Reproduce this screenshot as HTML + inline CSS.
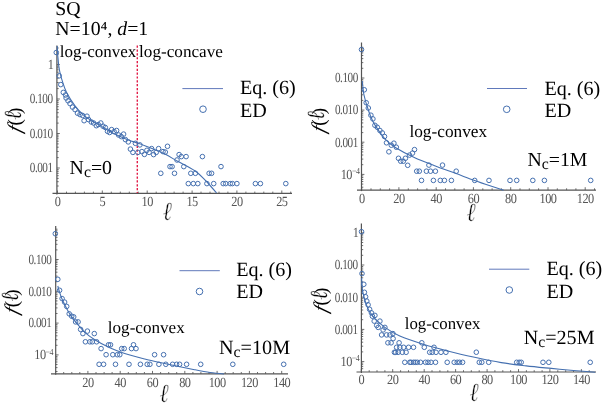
<!DOCTYPE html>
<html><head><meta charset="utf-8"><title>Length distributions</title>
<style>
html,body{margin:0;padding:0;background:#fff;}
svg{display:block;font-family:"Liberation Serif",serif;text-rendering:geometricPrecision;will-change:transform;}
</style></head>
<body>
<svg width="602" height="403" viewBox="0 0 602 403">
<rect width="602" height="403" fill="#fff"/>
<g stroke="#555555" stroke-width="1.2" fill="none">
<line x1="52.5" y1="193.4" x2="292" y2="193.4"/>
<line x1="56.9" y1="45.5" x2="56.9" y2="194.4"/>
</g>
<g stroke="#555555" stroke-width="0.85" fill="none">
<line x1="57.5" y1="193.4" x2="57.5" y2="190.5"/>
<line x1="102.3" y1="193.4" x2="102.3" y2="190.5"/>
<line x1="147.2" y1="193.4" x2="147.2" y2="190.5"/>
<line x1="192.1" y1="193.4" x2="192.1" y2="190.5"/>
<line x1="236.9" y1="193.4" x2="236.9" y2="190.5"/>
<line x1="281.8" y1="193.4" x2="281.8" y2="190.5"/>
<line x1="66.5" y1="193.4" x2="66.5" y2="191.6"/>
<line x1="75.4" y1="193.4" x2="75.4" y2="191.6"/>
<line x1="84.4" y1="193.4" x2="84.4" y2="191.6"/>
<line x1="93.4" y1="193.4" x2="93.4" y2="191.6"/>
<line x1="111.3" y1="193.4" x2="111.3" y2="191.6"/>
<line x1="120.3" y1="193.4" x2="120.3" y2="191.6"/>
<line x1="129.3" y1="193.4" x2="129.3" y2="191.6"/>
<line x1="138.2" y1="193.4" x2="138.2" y2="191.6"/>
<line x1="156.2" y1="193.4" x2="156.2" y2="191.6"/>
<line x1="165.1" y1="193.4" x2="165.1" y2="191.6"/>
<line x1="174.1" y1="193.4" x2="174.1" y2="191.6"/>
<line x1="183.1" y1="193.4" x2="183.1" y2="191.6"/>
<line x1="201.0" y1="193.4" x2="201.0" y2="191.6"/>
<line x1="210.0" y1="193.4" x2="210.0" y2="191.6"/>
<line x1="219.0" y1="193.4" x2="219.0" y2="191.6"/>
<line x1="227.9" y1="193.4" x2="227.9" y2="191.6"/>
<line x1="245.9" y1="193.4" x2="245.9" y2="191.6"/>
<line x1="254.8" y1="193.4" x2="254.8" y2="191.6"/>
<line x1="263.8" y1="193.4" x2="263.8" y2="191.6"/>
<line x1="272.8" y1="193.4" x2="272.8" y2="191.6"/>
<line x1="290.7" y1="193.4" x2="290.7" y2="191.6"/>
<line x1="56.9" y1="64.5" x2="59.8" y2="64.5"/>
<line x1="56.9" y1="99.0" x2="59.8" y2="99.0"/>
<line x1="56.9" y1="133.5" x2="59.8" y2="133.5"/>
<line x1="56.9" y1="168.0" x2="59.8" y2="168.0"/>
<line x1="56.9" y1="186.0" x2="58.699999999999996" y2="186.0"/>
<line x1="56.9" y1="181.7" x2="58.699999999999996" y2="181.7"/>
<line x1="56.9" y1="178.4" x2="58.699999999999996" y2="178.4"/>
<line x1="56.9" y1="175.7" x2="58.699999999999996" y2="175.7"/>
<line x1="56.9" y1="173.3" x2="58.699999999999996" y2="173.3"/>
<line x1="56.9" y1="171.3" x2="58.699999999999996" y2="171.3"/>
<line x1="56.9" y1="169.6" x2="58.699999999999996" y2="169.6"/>
<line x1="56.9" y1="157.6" x2="58.699999999999996" y2="157.6"/>
<line x1="56.9" y1="151.5" x2="58.699999999999996" y2="151.5"/>
<line x1="56.9" y1="147.2" x2="58.699999999999996" y2="147.2"/>
<line x1="56.9" y1="143.9" x2="58.699999999999996" y2="143.9"/>
<line x1="56.9" y1="141.2" x2="58.699999999999996" y2="141.2"/>
<line x1="56.9" y1="138.8" x2="58.699999999999996" y2="138.8"/>
<line x1="56.9" y1="136.8" x2="58.699999999999996" y2="136.8"/>
<line x1="56.9" y1="135.1" x2="58.699999999999996" y2="135.1"/>
<line x1="56.9" y1="123.1" x2="58.699999999999996" y2="123.1"/>
<line x1="56.9" y1="117.0" x2="58.699999999999996" y2="117.0"/>
<line x1="56.9" y1="112.7" x2="58.699999999999996" y2="112.7"/>
<line x1="56.9" y1="109.4" x2="58.699999999999996" y2="109.4"/>
<line x1="56.9" y1="106.7" x2="58.699999999999996" y2="106.7"/>
<line x1="56.9" y1="104.3" x2="58.699999999999996" y2="104.3"/>
<line x1="56.9" y1="102.3" x2="58.699999999999996" y2="102.3"/>
<line x1="56.9" y1="100.6" x2="58.699999999999996" y2="100.6"/>
<line x1="56.9" y1="88.6" x2="58.699999999999996" y2="88.6"/>
<line x1="56.9" y1="82.5" x2="58.699999999999996" y2="82.5"/>
<line x1="56.9" y1="78.2" x2="58.699999999999996" y2="78.2"/>
<line x1="56.9" y1="74.9" x2="58.699999999999996" y2="74.9"/>
<line x1="56.9" y1="72.2" x2="58.699999999999996" y2="72.2"/>
<line x1="56.9" y1="69.8" x2="58.699999999999996" y2="69.8"/>
<line x1="56.9" y1="67.8" x2="58.699999999999996" y2="67.8"/>
<line x1="56.9" y1="66.1" x2="58.699999999999996" y2="66.1"/>
<line x1="56.9" y1="54.1" x2="58.699999999999996" y2="54.1"/>
<line x1="56.9" y1="48.0" x2="58.699999999999996" y2="48.0"/>
</g>
<text transform="translate(57.5,205.7) scale(0.88,1)" font-size="14" letter-spacing="-0.6" text-anchor="middle" fill="#555555">0</text>
<text transform="translate(102.3,205.7) scale(0.88,1)" font-size="14" letter-spacing="-0.6" text-anchor="middle" fill="#555555">5</text>
<text transform="translate(147.2,205.7) scale(0.88,1)" font-size="14" letter-spacing="-0.6" text-anchor="middle" fill="#555555">10</text>
<text transform="translate(192.1,205.7) scale(0.88,1)" font-size="14" letter-spacing="-0.6" text-anchor="middle" fill="#555555">15</text>
<text transform="translate(236.9,205.7) scale(0.88,1)" font-size="14" letter-spacing="-0.6" text-anchor="middle" fill="#555555">20</text>
<text transform="translate(281.8,205.7) scale(0.88,1)" font-size="14" letter-spacing="-0.6" text-anchor="middle" fill="#555555">25</text>
<text transform="translate(53.5,68.8) scale(0.88,1)" font-size="14" letter-spacing="-0.6" text-anchor="end" fill="#555555">1</text>
<text transform="translate(52.6,103.3) scale(0.8,1)" font-size="14" letter-spacing="-0.6" text-anchor="end" fill="#555555">0.100</text>
<text transform="translate(52.6,137.8) scale(0.8,1)" font-size="14" letter-spacing="-0.6" text-anchor="end" fill="#555555">0.010</text>
<text transform="translate(52.6,172.3) scale(0.8,1)" font-size="14" letter-spacing="-0.6" text-anchor="end" fill="#555555">0.001</text>
<line x1="137.3" y1="45.6" x2="137.3" y2="193" stroke="#e21d48" stroke-width="1.4" stroke-dasharray="2.2,1.65"/>
<path d="M57.2,46.0C57.3,47.7 57.5,52.7 57.8,56.0C58.1,59.3 58.4,63.0 58.8,66.0C59.2,69.0 59.7,71.4 60.3,74.0C60.9,76.6 61.5,78.5 62.5,81.6C63.5,84.7 64.5,88.4 66.6,92.4C68.7,96.4 72.2,102.0 75.0,105.8C77.8,109.5 80.5,112.4 83.3,114.9C86.1,117.4 88.8,119.0 91.6,120.7C94.4,122.5 96.7,123.4 100.0,125.4C103.3,127.4 106.9,130.1 111.6,132.5C116.3,134.9 123.9,138.2 128.3,140.0C132.8,141.8 134.2,141.8 138.3,143.3C142.5,144.8 148.8,147.3 153.2,149.1C157.6,150.9 160.7,152.0 164.9,154.1C169.1,156.2 173.2,158.8 178.2,161.6C183.2,164.4 190.2,167.5 194.8,170.7C199.4,173.9 202.4,177.3 206.0,181.0C209.6,184.7 214.8,191.0 216.5,193.0" fill="none" stroke="#4570b0" stroke-width="1.1"/>
<g fill="none" stroke="#4570b0" stroke-width="1.0">
<circle cx="56.3" cy="52.5" r="2.3"/>
<circle cx="59.2" cy="75.8" r="2.3"/>
<circle cx="60.8" cy="84.6" r="2.3"/>
<circle cx="63.3" cy="92.4" r="2.3"/>
<circle cx="65.5" cy="95.0" r="2.3"/>
<circle cx="66.1" cy="98.0" r="2.3"/>
<circle cx="68.0" cy="100.8" r="2.3"/>
<circle cx="70.0" cy="103.6" r="2.3"/>
<circle cx="72.5" cy="107.1" r="2.3"/>
<circle cx="75.0" cy="109.6" r="2.3"/>
<circle cx="77.5" cy="113.2" r="2.3"/>
<circle cx="80.0" cy="114.6" r="2.3"/>
<circle cx="82.5" cy="115.4" r="2.3"/>
<circle cx="84.1" cy="120.7" r="2.3"/>
<circle cx="87.0" cy="116.2" r="2.3"/>
<circle cx="88.6" cy="119.6" r="2.3"/>
<circle cx="91.3" cy="122.0" r="2.3"/>
<circle cx="93.6" cy="123.0" r="2.3"/>
<circle cx="96.3" cy="125.7" r="2.3"/>
<circle cx="98.3" cy="124.6" r="2.3"/>
<circle cx="100.8" cy="123.0" r="2.3"/>
<circle cx="103.0" cy="126.2" r="2.3"/>
<circle cx="105.3" cy="127.5" r="2.3"/>
<circle cx="107.5" cy="131.3" r="2.3"/>
<circle cx="109.6" cy="132.5" r="2.3"/>
<circle cx="111.6" cy="129.6" r="2.3"/>
<circle cx="114.1" cy="131.6" r="2.3"/>
<circle cx="116.6" cy="130.5" r="2.3"/>
<circle cx="118.6" cy="135.0" r="2.3"/>
<circle cx="121.3" cy="136.6" r="2.3"/>
<circle cx="123.6" cy="134.1" r="2.3"/>
<circle cx="125.4" cy="139.6" r="2.3"/>
<circle cx="128.3" cy="141.9" r="2.3"/>
<circle cx="130.4" cy="149.1" r="2.3"/>
<circle cx="132.9" cy="152.4" r="2.3"/>
<circle cx="135.4" cy="143.3" r="2.3"/>
<circle cx="137.9" cy="152.4" r="2.3"/>
<circle cx="139.9" cy="144.9" r="2.3"/>
<circle cx="141.9" cy="151.6" r="2.3"/>
<circle cx="144.4" cy="154.4" r="2.3"/>
<circle cx="146.9" cy="150.3" r="2.3"/>
<circle cx="149.1" cy="152.4" r="2.3"/>
<circle cx="151.6" cy="148.6" r="2.3"/>
<circle cx="153.6" cy="154.6" r="2.3"/>
<circle cx="156.2" cy="152.4" r="2.3"/>
<circle cx="158.6" cy="148.6" r="2.3"/>
<circle cx="160.8" cy="173.3" r="2.3"/>
<circle cx="163.0" cy="151.6" r="2.3"/>
<circle cx="165.3" cy="152.1" r="2.3"/>
<circle cx="167.5" cy="146.3" r="2.3"/>
<circle cx="170.0" cy="166.6" r="2.3"/>
<circle cx="172.1" cy="166.6" r="2.3"/>
<circle cx="174.5" cy="173.3" r="2.3"/>
<circle cx="177.0" cy="160.0" r="2.3"/>
<circle cx="179.1" cy="154.6" r="2.3"/>
<circle cx="181.3" cy="156.6" r="2.3"/>
<circle cx="183.8" cy="166.6" r="2.3"/>
<circle cx="186.1" cy="156.6" r="2.3"/>
<circle cx="188.3" cy="183.6" r="2.3"/>
<circle cx="190.8" cy="173.3" r="2.3"/>
<circle cx="193.3" cy="183.6" r="2.3"/>
<circle cx="195.4" cy="173.3" r="2.3"/>
<circle cx="197.8" cy="183.6" r="2.3"/>
<circle cx="202.4" cy="156.6" r="2.3"/>
<circle cx="206.9" cy="183.6" r="2.3"/>
<circle cx="209.1" cy="173.3" r="2.3"/>
<circle cx="211.6" cy="173.3" r="2.3"/>
<circle cx="213.7" cy="183.6" r="2.3"/>
<circle cx="221.0" cy="166.6" r="2.3"/>
<circle cx="223.2" cy="183.6" r="2.3"/>
<circle cx="225.7" cy="183.6" r="2.3"/>
<circle cx="230.2" cy="183.6" r="2.3"/>
<circle cx="232.4" cy="183.6" r="2.3"/>
<circle cx="236.9" cy="183.6" r="2.3"/>
<circle cx="255.4" cy="183.6" r="2.3"/>
<circle cx="260.4" cy="183.6" r="2.3"/>
<circle cx="285.8" cy="183.6" r="2.3"/>
</g>
<text x="55.2" y="15" font-size="19.8" text-anchor="start" fill="#000" >SQ</text>
<text x="55.3" y="35.4" font-size="19.8" fill="#000">N=10⁴, <tspan font-style="italic">d</tspan>=1</text>
<text x="59.8" y="56.8" font-size="17.0" text-anchor="start" fill="#000" >log-convex</text>
<text x="139.1" y="56.8" font-size="17.15" text-anchor="start" fill="#000" >log-concave</text>
<line x1="182.4" y1="88.6" x2="223" y2="88.6" stroke="#6079bb" stroke-width="1"/>
<circle cx="203" cy="109.2" r="3.3" fill="none" stroke="#4570b0" stroke-width="1"/>
<text x="240" y="94.3" font-size="20.1" text-anchor="start" fill="#000" >Eq. (6)</text>
<text x="240" y="117" font-size="20.1" text-anchor="start" fill="#000" >ED</text>
<text x="69.6" y="174.4" font-size="19.8" fill="#000">N<tspan dy="2.6" font-size="15.8">c</tspan><tspan dy="-2.6">=0</tspan></text>
<g transform="translate(21,135) rotate(-90)" fill="#000">
<text transform="translate(1.7,0) skewX(-17)" font-size="19.5" font-style="italic">f</text>
<text x="9.4" y="0" font-size="19">(</text>
<text transform="translate(15.2,-0.4) scale(0.86,1)" font-size="24.5" font-style="italic" stroke="#fff" stroke-width="0.3">ℓ</text>
<text x="20.9" y="0" font-size="19">)</text>
</g>
<text transform="translate(162.78,219.90) scale(0.84,1)" font-size="26" font-style="italic" fill="#000" stroke="#fff" stroke-width="0.45">ℓ</text>
<g stroke="#555555" stroke-width="1.2" fill="none">
<line x1="357" y1="190.1" x2="596" y2="190.1"/>
<line x1="361.5" y1="42.5" x2="361.5" y2="191.1"/>
</g>
<g stroke="#555555" stroke-width="0.85" fill="none">
<line x1="361.7" y1="190.1" x2="361.7" y2="187.2"/>
<line x1="398.9" y1="190.1" x2="398.9" y2="187.2"/>
<line x1="436.2" y1="190.1" x2="436.2" y2="187.2"/>
<line x1="473.4" y1="190.1" x2="473.4" y2="187.2"/>
<line x1="510.7" y1="190.1" x2="510.7" y2="187.2"/>
<line x1="548.0" y1="190.1" x2="548.0" y2="187.2"/>
<line x1="585.2" y1="190.1" x2="585.2" y2="187.2"/>
<line x1="371.0" y1="190.1" x2="371.0" y2="188.29999999999998"/>
<line x1="380.3" y1="190.1" x2="380.3" y2="188.29999999999998"/>
<line x1="389.6" y1="190.1" x2="389.6" y2="188.29999999999998"/>
<line x1="408.3" y1="190.1" x2="408.3" y2="188.29999999999998"/>
<line x1="417.6" y1="190.1" x2="417.6" y2="188.29999999999998"/>
<line x1="426.9" y1="190.1" x2="426.9" y2="188.29999999999998"/>
<line x1="445.5" y1="190.1" x2="445.5" y2="188.29999999999998"/>
<line x1="454.8" y1="190.1" x2="454.8" y2="188.29999999999998"/>
<line x1="464.1" y1="190.1" x2="464.1" y2="188.29999999999998"/>
<line x1="482.8" y1="190.1" x2="482.8" y2="188.29999999999998"/>
<line x1="492.1" y1="190.1" x2="492.1" y2="188.29999999999998"/>
<line x1="501.4" y1="190.1" x2="501.4" y2="188.29999999999998"/>
<line x1="520.0" y1="190.1" x2="520.0" y2="188.29999999999998"/>
<line x1="529.3" y1="190.1" x2="529.3" y2="188.29999999999998"/>
<line x1="538.6" y1="190.1" x2="538.6" y2="188.29999999999998"/>
<line x1="557.3" y1="190.1" x2="557.3" y2="188.29999999999998"/>
<line x1="566.6" y1="190.1" x2="566.6" y2="188.29999999999998"/>
<line x1="575.9" y1="190.1" x2="575.9" y2="188.29999999999998"/>
<line x1="594.5" y1="190.1" x2="594.5" y2="188.29999999999998"/>
<line x1="361.5" y1="78.0" x2="364.4" y2="78.0"/>
<line x1="361.5" y1="110.1" x2="364.4" y2="110.1"/>
<line x1="361.5" y1="142.2" x2="364.4" y2="142.2"/>
<line x1="361.5" y1="174.4" x2="364.4" y2="174.4"/>
<line x1="361.5" y1="187.2" x2="363.3" y2="187.2"/>
<line x1="361.5" y1="184.1" x2="363.3" y2="184.1"/>
<line x1="361.5" y1="181.5" x2="363.3" y2="181.5"/>
<line x1="361.5" y1="179.4" x2="363.3" y2="179.4"/>
<line x1="361.5" y1="177.5" x2="363.3" y2="177.5"/>
<line x1="361.5" y1="175.9" x2="363.3" y2="175.9"/>
<line x1="361.5" y1="164.7" x2="363.3" y2="164.7"/>
<line x1="361.5" y1="159.1" x2="363.3" y2="159.1"/>
<line x1="361.5" y1="155.0" x2="363.3" y2="155.0"/>
<line x1="361.5" y1="151.9" x2="363.3" y2="151.9"/>
<line x1="361.5" y1="149.4" x2="363.3" y2="149.4"/>
<line x1="361.5" y1="147.2" x2="363.3" y2="147.2"/>
<line x1="361.5" y1="145.4" x2="363.3" y2="145.4"/>
<line x1="361.5" y1="143.7" x2="363.3" y2="143.7"/>
<line x1="361.5" y1="132.6" x2="363.3" y2="132.6"/>
<line x1="361.5" y1="126.9" x2="363.3" y2="126.9"/>
<line x1="361.5" y1="122.9" x2="363.3" y2="122.9"/>
<line x1="361.5" y1="119.8" x2="363.3" y2="119.8"/>
<line x1="361.5" y1="117.2" x2="363.3" y2="117.2"/>
<line x1="361.5" y1="115.1" x2="363.3" y2="115.1"/>
<line x1="361.5" y1="113.2" x2="363.3" y2="113.2"/>
<line x1="361.5" y1="111.6" x2="363.3" y2="111.6"/>
<line x1="361.5" y1="100.4" x2="363.3" y2="100.4"/>
<line x1="361.5" y1="94.8" x2="363.3" y2="94.8"/>
<line x1="361.5" y1="90.7" x2="363.3" y2="90.7"/>
<line x1="361.5" y1="87.6" x2="363.3" y2="87.6"/>
<line x1="361.5" y1="85.1" x2="363.3" y2="85.1"/>
<line x1="361.5" y1="82.9" x2="363.3" y2="82.9"/>
<line x1="361.5" y1="81.1" x2="363.3" y2="81.1"/>
<line x1="361.5" y1="79.4" x2="363.3" y2="79.4"/>
<line x1="361.5" y1="68.3" x2="363.3" y2="68.3"/>
<line x1="361.5" y1="62.6" x2="363.3" y2="62.6"/>
<line x1="361.5" y1="58.6" x2="363.3" y2="58.6"/>
<line x1="361.5" y1="55.5" x2="363.3" y2="55.5"/>
<line x1="361.5" y1="52.9" x2="363.3" y2="52.9"/>
<line x1="361.5" y1="50.8" x2="363.3" y2="50.8"/>
<line x1="361.5" y1="48.9" x2="363.3" y2="48.9"/>
<line x1="361.5" y1="47.3" x2="363.3" y2="47.3"/>
</g>
<text transform="translate(361.7,202.6) scale(0.88,1)" font-size="14" letter-spacing="-0.6" text-anchor="middle" fill="#555555">0</text>
<text transform="translate(398.9,202.6) scale(0.88,1)" font-size="14" letter-spacing="-0.6" text-anchor="middle" fill="#555555">20</text>
<text transform="translate(436.2,202.6) scale(0.88,1)" font-size="14" letter-spacing="-0.6" text-anchor="middle" fill="#555555">40</text>
<text transform="translate(473.4,202.6) scale(0.88,1)" font-size="14" letter-spacing="-0.6" text-anchor="middle" fill="#555555">60</text>
<text transform="translate(510.7,202.6) scale(0.88,1)" font-size="14" letter-spacing="-0.6" text-anchor="middle" fill="#555555">80</text>
<text transform="translate(548.0,202.6) scale(0.88,1)" font-size="14" letter-spacing="-0.6" text-anchor="middle" fill="#555555">100</text>
<text transform="translate(585.2,202.6) scale(0.88,1)" font-size="14" letter-spacing="-0.6" text-anchor="middle" fill="#555555">120</text>
<text transform="translate(357.8,82.2) scale(0.8,1)" font-size="14" letter-spacing="-0.6" text-anchor="end" fill="#555555">0.100</text>
<text transform="translate(357.8,114.4) scale(0.8,1)" font-size="14" letter-spacing="-0.6" text-anchor="end" fill="#555555">0.010</text>
<text transform="translate(357.8,146.6) scale(0.8,1)" font-size="14" letter-spacing="-0.6" text-anchor="end" fill="#555555">0.001</text>
<text transform="translate(359.4,178.7) scale(0.88,1)" font-size="14" letter-spacing="-0.6" text-anchor="end" fill="#555555">10<tspan dy="-4.5" font-size="9">−4</tspan></text>
<path d="M362.2,81.0C362.3,82.2 362.7,85.7 363.0,88.0C363.3,90.3 363.3,92.0 364.0,95.0C364.7,98.0 365.9,102.5 367.0,106.0C368.1,109.5 369.2,112.8 370.5,116.0C371.8,119.2 372.5,121.1 374.9,124.9C377.3,128.7 381.6,135.2 384.9,138.9C388.2,142.6 389.9,144.0 394.9,147.2C399.9,150.3 408.2,154.7 414.8,157.8C421.4,160.9 428.1,163.2 434.7,165.8C441.3,168.4 448.1,170.7 454.7,173.1C461.3,175.5 468.6,178.3 474.5,180.4C480.4,182.5 485.2,184.1 490.0,185.7C494.8,187.3 501.2,189.4 503.5,190.1" fill="none" stroke="#4570b0" stroke-width="1.1"/>
<g fill="none" stroke="#4570b0" stroke-width="1.0">
<circle cx="361.5" cy="49.6" r="2.3"/>
<circle cx="364.3" cy="89.8" r="2.3"/>
<circle cx="366.2" cy="102.7" r="2.3"/>
<circle cx="368.3" cy="108.0" r="2.3"/>
<circle cx="370.9" cy="115.2" r="2.3"/>
<circle cx="372.9" cy="118.9" r="2.3"/>
<circle cx="374.9" cy="125.3" r="2.3"/>
<circle cx="377.3" cy="127.3" r="2.3"/>
<circle cx="379.9" cy="130.5" r="2.3"/>
<circle cx="382.3" cy="132.9" r="2.3"/>
<circle cx="384.5" cy="136.5" r="2.3"/>
<circle cx="386.5" cy="142.8" r="2.3"/>
<circle cx="388.9" cy="151.8" r="2.3"/>
<circle cx="391.3" cy="145.2" r="2.3"/>
<circle cx="393.9" cy="143.2" r="2.3"/>
<circle cx="396.3" cy="147.2" r="2.3"/>
<circle cx="398.5" cy="158.3" r="2.3"/>
<circle cx="400.7" cy="161.2" r="2.3"/>
<circle cx="403.3" cy="161.2" r="2.3"/>
<circle cx="405.4" cy="158.3" r="2.3"/>
<circle cx="407.7" cy="165.3" r="2.3"/>
<circle cx="409.5" cy="155.1" r="2.3"/>
<circle cx="412.5" cy="153.1" r="2.3"/>
<circle cx="414.5" cy="149.6" r="2.3"/>
<circle cx="416.7" cy="171.2" r="2.3"/>
<circle cx="419.3" cy="171.2" r="2.3"/>
<circle cx="426.4" cy="171.2" r="2.3"/>
<circle cx="430.5" cy="171.2" r="2.3"/>
<circle cx="435.4" cy="171.2" r="2.3"/>
<circle cx="456.2" cy="171.2" r="2.3"/>
<circle cx="428.9" cy="165.1" r="2.3"/>
<circle cx="442.5" cy="165.1" r="2.3"/>
<circle cx="421.5" cy="180.4" r="2.3"/>
<circle cx="433.4" cy="180.4" r="2.3"/>
<circle cx="440.3" cy="180.4" r="2.3"/>
<circle cx="444.4" cy="180.4" r="2.3"/>
<circle cx="451.4" cy="180.4" r="2.3"/>
<circle cx="474.7" cy="180.4" r="2.3"/>
<circle cx="489.0" cy="180.4" r="2.3"/>
<circle cx="510.0" cy="180.4" r="2.3"/>
<circle cx="516.7" cy="180.4" r="2.3"/>
<circle cx="532.8" cy="180.4" r="2.3"/>
<circle cx="544.4" cy="180.4" r="2.3"/>
<circle cx="590.7" cy="180.4" r="2.3"/>
</g>
<text x="409.4" y="137.4" font-size="17.3" text-anchor="start" fill="#000" >log-convex</text>
<line x1="487" y1="88.5" x2="527" y2="88.5" stroke="#6079bb" stroke-width="1"/>
<circle cx="506.7" cy="109.3" r="3.3" fill="none" stroke="#4570b0" stroke-width="1"/>
<text x="544.5" y="95" font-size="20.1" text-anchor="start" fill="#000" >Eq. (6)</text>
<text x="544.5" y="116.5" font-size="20.1" text-anchor="start" fill="#000" >ED</text>
<text x="527.5" y="166.3" font-size="19.8" fill="#000">N<tspan dy="2.6" font-size="15.8">c</tspan><tspan dy="-2.6">=1M</tspan></text>
<g transform="translate(324.7,135.1) rotate(-90)" fill="#000">
<text transform="translate(1.7,0) skewX(-17)" font-size="19.5" font-style="italic">f</text>
<text x="9.4" y="0" font-size="19">(</text>
<text transform="translate(15.2,-0.4) scale(0.86,1)" font-size="24.5" font-style="italic" stroke="#fff" stroke-width="0.3">ℓ</text>
<text x="20.9" y="0" font-size="19">)</text>
</g>
<text transform="translate(466.38,220.50) scale(0.84,1)" font-size="26" font-style="italic" fill="#000" stroke="#fff" stroke-width="0.45">ℓ</text>
<g stroke="#555555" stroke-width="1.2" fill="none">
<line x1="51" y1="373.8" x2="288" y2="373.8"/>
<line x1="55.7" y1="226" x2="55.7" y2="374.8"/>
</g>
<g stroke="#555555" stroke-width="0.85" fill="none">
<line x1="87.9" y1="373.8" x2="87.9" y2="370.90000000000003"/>
<line x1="120.2" y1="373.8" x2="120.2" y2="370.90000000000003"/>
<line x1="152.5" y1="373.8" x2="152.5" y2="370.90000000000003"/>
<line x1="184.8" y1="373.8" x2="184.8" y2="370.90000000000003"/>
<line x1="217.1" y1="373.8" x2="217.1" y2="370.90000000000003"/>
<line x1="249.4" y1="373.8" x2="249.4" y2="370.90000000000003"/>
<line x1="281.7" y1="373.8" x2="281.7" y2="370.90000000000003"/>
<line x1="63.7" y1="373.8" x2="63.7" y2="372.0"/>
<line x1="71.8" y1="373.8" x2="71.8" y2="372.0"/>
<line x1="79.8" y1="373.8" x2="79.8" y2="372.0"/>
<line x1="96.0" y1="373.8" x2="96.0" y2="372.0"/>
<line x1="104.1" y1="373.8" x2="104.1" y2="372.0"/>
<line x1="112.1" y1="373.8" x2="112.1" y2="372.0"/>
<line x1="128.3" y1="373.8" x2="128.3" y2="372.0"/>
<line x1="136.3" y1="373.8" x2="136.3" y2="372.0"/>
<line x1="144.4" y1="373.8" x2="144.4" y2="372.0"/>
<line x1="160.6" y1="373.8" x2="160.6" y2="372.0"/>
<line x1="168.7" y1="373.8" x2="168.7" y2="372.0"/>
<line x1="176.7" y1="373.8" x2="176.7" y2="372.0"/>
<line x1="192.9" y1="373.8" x2="192.9" y2="372.0"/>
<line x1="200.9" y1="373.8" x2="200.9" y2="372.0"/>
<line x1="209.0" y1="373.8" x2="209.0" y2="372.0"/>
<line x1="225.2" y1="373.8" x2="225.2" y2="372.0"/>
<line x1="233.2" y1="373.8" x2="233.2" y2="372.0"/>
<line x1="241.3" y1="373.8" x2="241.3" y2="372.0"/>
<line x1="257.5" y1="373.8" x2="257.5" y2="372.0"/>
<line x1="265.6" y1="373.8" x2="265.6" y2="372.0"/>
<line x1="273.6" y1="373.8" x2="273.6" y2="372.0"/>
<line x1="55.7" y1="259.5" x2="58.6" y2="259.5"/>
<line x1="55.7" y1="291.3" x2="58.6" y2="291.3"/>
<line x1="55.7" y1="323.1" x2="58.6" y2="323.1"/>
<line x1="55.7" y1="354.9" x2="58.6" y2="354.9"/>
<line x1="55.7" y1="371.5" x2="57.5" y2="371.5"/>
<line x1="55.7" y1="367.6" x2="57.5" y2="367.6"/>
<line x1="55.7" y1="364.5" x2="57.5" y2="364.5"/>
<line x1="55.7" y1="362.0" x2="57.5" y2="362.0"/>
<line x1="55.7" y1="359.8" x2="57.5" y2="359.8"/>
<line x1="55.7" y1="358.0" x2="57.5" y2="358.0"/>
<line x1="55.7" y1="356.4" x2="57.5" y2="356.4"/>
<line x1="55.7" y1="345.3" x2="57.5" y2="345.3"/>
<line x1="55.7" y1="339.7" x2="57.5" y2="339.7"/>
<line x1="55.7" y1="335.8" x2="57.5" y2="335.8"/>
<line x1="55.7" y1="332.7" x2="57.5" y2="332.7"/>
<line x1="55.7" y1="330.2" x2="57.5" y2="330.2"/>
<line x1="55.7" y1="328.0" x2="57.5" y2="328.0"/>
<line x1="55.7" y1="326.2" x2="57.5" y2="326.2"/>
<line x1="55.7" y1="324.6" x2="57.5" y2="324.6"/>
<line x1="55.7" y1="313.5" x2="57.5" y2="313.5"/>
<line x1="55.7" y1="307.9" x2="57.5" y2="307.9"/>
<line x1="55.7" y1="304.0" x2="57.5" y2="304.0"/>
<line x1="55.7" y1="300.9" x2="57.5" y2="300.9"/>
<line x1="55.7" y1="298.4" x2="57.5" y2="298.4"/>
<line x1="55.7" y1="296.2" x2="57.5" y2="296.2"/>
<line x1="55.7" y1="294.4" x2="57.5" y2="294.4"/>
<line x1="55.7" y1="292.8" x2="57.5" y2="292.8"/>
<line x1="55.7" y1="281.7" x2="57.5" y2="281.7"/>
<line x1="55.7" y1="276.1" x2="57.5" y2="276.1"/>
<line x1="55.7" y1="272.2" x2="57.5" y2="272.2"/>
<line x1="55.7" y1="269.1" x2="57.5" y2="269.1"/>
<line x1="55.7" y1="266.6" x2="57.5" y2="266.6"/>
<line x1="55.7" y1="264.4" x2="57.5" y2="264.4"/>
<line x1="55.7" y1="262.6" x2="57.5" y2="262.6"/>
<line x1="55.7" y1="261.0" x2="57.5" y2="261.0"/>
<line x1="55.7" y1="249.9" x2="57.5" y2="249.9"/>
<line x1="55.7" y1="244.3" x2="57.5" y2="244.3"/>
<line x1="55.7" y1="240.4" x2="57.5" y2="240.4"/>
<line x1="55.7" y1="237.3" x2="57.5" y2="237.3"/>
<line x1="55.7" y1="234.8" x2="57.5" y2="234.8"/>
<line x1="55.7" y1="232.6" x2="57.5" y2="232.6"/>
<line x1="55.7" y1="230.8" x2="57.5" y2="230.8"/>
<line x1="55.7" y1="229.2" x2="57.5" y2="229.2"/>
</g>
<text transform="translate(87.9,386.6) scale(0.88,1)" font-size="14" letter-spacing="-0.6" text-anchor="middle" fill="#555555">20</text>
<text transform="translate(120.2,386.6) scale(0.88,1)" font-size="14" letter-spacing="-0.6" text-anchor="middle" fill="#555555">40</text>
<text transform="translate(152.5,386.6) scale(0.88,1)" font-size="14" letter-spacing="-0.6" text-anchor="middle" fill="#555555">60</text>
<text transform="translate(184.8,386.6) scale(0.88,1)" font-size="14" letter-spacing="-0.6" text-anchor="middle" fill="#555555">80</text>
<text transform="translate(217.1,386.6) scale(0.88,1)" font-size="14" letter-spacing="-0.6" text-anchor="middle" fill="#555555">100</text>
<text transform="translate(249.4,386.6) scale(0.88,1)" font-size="14" letter-spacing="-0.6" text-anchor="middle" fill="#555555">120</text>
<text transform="translate(281.7,386.6) scale(0.88,1)" font-size="14" letter-spacing="-0.6" text-anchor="middle" fill="#555555">140</text>
<text transform="translate(51.3,263.8) scale(0.8,1)" font-size="14" letter-spacing="-0.6" text-anchor="end" fill="#555555">0.100</text>
<text transform="translate(51.3,295.6) scale(0.8,1)" font-size="14" letter-spacing="-0.6" text-anchor="end" fill="#555555">0.010</text>
<text transform="translate(51.3,327.4) scale(0.8,1)" font-size="14" letter-spacing="-0.6" text-anchor="end" fill="#555555">0.001</text>
<text transform="translate(53.0,359.2) scale(0.88,1)" font-size="14" letter-spacing="-0.6" text-anchor="end" fill="#555555">10<tspan dy="-4.5" font-size="9">−4</tspan></text>
<path d="M57.8,286.0C58.1,287.0 58.8,289.9 59.5,292.0C60.2,294.1 60.9,296.3 61.8,298.5C62.7,300.7 63.6,302.5 64.9,305.0C66.2,307.5 67.8,310.8 69.5,313.5C71.2,316.2 72.3,318.0 74.9,321.1C77.5,324.2 81.6,329.3 84.9,332.4C88.2,335.5 90.7,337.2 94.8,339.8C98.9,342.4 104.8,345.5 109.8,347.8C114.8,350.1 118.9,351.6 124.7,353.5C130.5,355.4 138.0,357.3 144.7,359.0C151.3,360.7 156.3,361.7 164.6,363.5C172.9,365.3 186.9,368.2 194.5,369.7C202.1,371.2 205.1,371.8 210.0,372.5C214.9,373.2 221.7,373.8 224.0,374.0" fill="none" stroke="#4570b0" stroke-width="1.1"/>
<g fill="none" stroke="#4570b0" stroke-width="1.0">
<circle cx="55.3" cy="233.7" r="2.3"/>
<circle cx="57.8" cy="279.3" r="2.3"/>
<circle cx="59.6" cy="290.3" r="2.3"/>
<circle cx="62.1" cy="298.6" r="2.3"/>
<circle cx="64.6" cy="302.1" r="2.3"/>
<circle cx="66.7" cy="306.4" r="2.3"/>
<circle cx="69.2" cy="313.8" r="2.3"/>
<circle cx="71.7" cy="316.2" r="2.3"/>
<circle cx="73.7" cy="316.9" r="2.3"/>
<circle cx="75.6" cy="321.9" r="2.3"/>
<circle cx="78.1" cy="321.9" r="2.3"/>
<circle cx="80.6" cy="329.4" r="2.3"/>
<circle cx="82.9" cy="333.6" r="2.3"/>
<circle cx="85.4" cy="341.8" r="2.3"/>
<circle cx="87.4" cy="331.1" r="2.3"/>
<circle cx="89.9" cy="341.8" r="2.3"/>
<circle cx="92.3" cy="341.8" r="2.3"/>
<circle cx="94.3" cy="333.6" r="2.3"/>
<circle cx="96.6" cy="341.8" r="2.3"/>
<circle cx="99.1" cy="364.3" r="2.3"/>
<circle cx="101.1" cy="348.6" r="2.3"/>
<circle cx="103.6" cy="364.3" r="2.3"/>
<circle cx="106.1" cy="354.7" r="2.3"/>
<circle cx="108.5" cy="344.8" r="2.3"/>
<circle cx="110.5" cy="344.8" r="2.3"/>
<circle cx="112.8" cy="354.7" r="2.3"/>
<circle cx="115.5" cy="364.3" r="2.3"/>
<circle cx="117.3" cy="354.7" r="2.3"/>
<circle cx="119.8" cy="354.7" r="2.3"/>
<circle cx="121.7" cy="348.6" r="2.3"/>
<circle cx="124.2" cy="348.6" r="2.3"/>
<circle cx="129.0" cy="364.3" r="2.3"/>
<circle cx="131.5" cy="348.6" r="2.3"/>
<circle cx="133.5" cy="344.8" r="2.3"/>
<circle cx="136.0" cy="348.6" r="2.3"/>
<circle cx="140.4" cy="364.3" r="2.3"/>
<circle cx="147.2" cy="364.3" r="2.3"/>
<circle cx="149.9" cy="364.3" r="2.3"/>
<circle cx="154.6" cy="354.7" r="2.3"/>
<circle cx="158.9" cy="364.3" r="2.3"/>
<circle cx="163.6" cy="354.7" r="2.3"/>
<circle cx="165.8" cy="364.3" r="2.3"/>
<circle cx="172.6" cy="364.3" r="2.3"/>
<circle cx="176.6" cy="364.3" r="2.3"/>
<circle cx="179.6" cy="364.3" r="2.3"/>
<circle cx="186.6" cy="364.3" r="2.3"/>
<circle cx="200.7" cy="364.3" r="2.3"/>
<circle cx="232.8" cy="364.3" r="2.3"/>
<circle cx="283.7" cy="364.3" r="2.3"/>
</g>
<text x="107.8" y="333.2" font-size="17.1" text-anchor="start" fill="#000" >log-convex</text>
<line x1="179.5" y1="270.7" x2="219.8" y2="270.7" stroke="#6079bb" stroke-width="1"/>
<circle cx="199.5" cy="291.5" r="3.3" fill="none" stroke="#4570b0" stroke-width="1"/>
<text x="236.2" y="276.2" font-size="20.1" text-anchor="start" fill="#000" >Eq. (6)</text>
<text x="236.2" y="298.4" font-size="20.1" text-anchor="start" fill="#000" >ED</text>
<text x="219" y="353.9" font-size="20.2" fill="#000">N<tspan dy="2.6" font-size="15.8">c</tspan><tspan dy="-2.6">=10M</tspan></text>
<g transform="translate(18,316.7) rotate(-90)" fill="#000">
<text transform="translate(1.7,0) skewX(-17)" font-size="19.5" font-style="italic">f</text>
<text x="9.4" y="0" font-size="19">(</text>
<text transform="translate(15.2,-0.4) scale(0.86,1)" font-size="24.5" font-style="italic" stroke="#fff" stroke-width="0.3">ℓ</text>
<text x="20.9" y="0" font-size="19">)</text>
</g>
<text transform="translate(159.48,402.40) scale(0.84,1)" font-size="26" font-style="italic" fill="#000" stroke="#fff" stroke-width="0.45">ℓ</text>
<g stroke="#555555" stroke-width="1.2" fill="none">
<line x1="356.5" y1="372.0" x2="596" y2="372.0"/>
<line x1="361.4" y1="223.5" x2="361.4" y2="373.0"/>
</g>
<g stroke="#555555" stroke-width="0.85" fill="none">
<line x1="361.3" y1="372.0" x2="361.3" y2="369.1"/>
<line x1="392.7" y1="372.0" x2="392.7" y2="369.1"/>
<line x1="424.2" y1="372.0" x2="424.2" y2="369.1"/>
<line x1="455.6" y1="372.0" x2="455.6" y2="369.1"/>
<line x1="487.1" y1="372.0" x2="487.1" y2="369.1"/>
<line x1="518.5" y1="372.0" x2="518.5" y2="369.1"/>
<line x1="549.9" y1="372.0" x2="549.9" y2="369.1"/>
<line x1="581.4" y1="372.0" x2="581.4" y2="369.1"/>
<line x1="369.2" y1="372.0" x2="369.2" y2="370.2"/>
<line x1="377.0" y1="372.0" x2="377.0" y2="370.2"/>
<line x1="384.9" y1="372.0" x2="384.9" y2="370.2"/>
<line x1="400.6" y1="372.0" x2="400.6" y2="370.2"/>
<line x1="408.5" y1="372.0" x2="408.5" y2="370.2"/>
<line x1="416.3" y1="372.0" x2="416.3" y2="370.2"/>
<line x1="432.0" y1="372.0" x2="432.0" y2="370.2"/>
<line x1="439.9" y1="372.0" x2="439.9" y2="370.2"/>
<line x1="447.8" y1="372.0" x2="447.8" y2="370.2"/>
<line x1="463.5" y1="372.0" x2="463.5" y2="370.2"/>
<line x1="471.3" y1="372.0" x2="471.3" y2="370.2"/>
<line x1="479.2" y1="372.0" x2="479.2" y2="370.2"/>
<line x1="494.9" y1="372.0" x2="494.9" y2="370.2"/>
<line x1="502.8" y1="372.0" x2="502.8" y2="370.2"/>
<line x1="510.6" y1="372.0" x2="510.6" y2="370.2"/>
<line x1="526.4" y1="372.0" x2="526.4" y2="370.2"/>
<line x1="534.2" y1="372.0" x2="534.2" y2="370.2"/>
<line x1="542.1" y1="372.0" x2="542.1" y2="370.2"/>
<line x1="557.8" y1="372.0" x2="557.8" y2="370.2"/>
<line x1="565.7" y1="372.0" x2="565.7" y2="370.2"/>
<line x1="573.5" y1="372.0" x2="573.5" y2="370.2"/>
<line x1="589.2" y1="372.0" x2="589.2" y2="370.2"/>
<line x1="361.4" y1="232.8" x2="364.29999999999995" y2="232.8"/>
<line x1="361.4" y1="265.0" x2="364.29999999999995" y2="265.0"/>
<line x1="361.4" y1="297.2" x2="364.29999999999995" y2="297.2"/>
<line x1="361.4" y1="329.4" x2="364.29999999999995" y2="329.4"/>
<line x1="361.4" y1="361.6" x2="364.29999999999995" y2="361.6"/>
<line x1="361.4" y1="368.7" x2="363.2" y2="368.7"/>
<line x1="361.4" y1="366.6" x2="363.2" y2="366.6"/>
<line x1="361.4" y1="364.7" x2="363.2" y2="364.7"/>
<line x1="361.4" y1="363.1" x2="363.2" y2="363.1"/>
<line x1="361.4" y1="351.9" x2="363.2" y2="351.9"/>
<line x1="361.4" y1="346.2" x2="363.2" y2="346.2"/>
<line x1="361.4" y1="342.2" x2="363.2" y2="342.2"/>
<line x1="361.4" y1="339.1" x2="363.2" y2="339.1"/>
<line x1="361.4" y1="336.5" x2="363.2" y2="336.5"/>
<line x1="361.4" y1="334.4" x2="363.2" y2="334.4"/>
<line x1="361.4" y1="332.5" x2="363.2" y2="332.5"/>
<line x1="361.4" y1="330.9" x2="363.2" y2="330.9"/>
<line x1="361.4" y1="319.7" x2="363.2" y2="319.7"/>
<line x1="361.4" y1="314.0" x2="363.2" y2="314.0"/>
<line x1="361.4" y1="310.0" x2="363.2" y2="310.0"/>
<line x1="361.4" y1="306.9" x2="363.2" y2="306.9"/>
<line x1="361.4" y1="304.3" x2="363.2" y2="304.3"/>
<line x1="361.4" y1="302.2" x2="363.2" y2="302.2"/>
<line x1="361.4" y1="300.3" x2="363.2" y2="300.3"/>
<line x1="361.4" y1="298.7" x2="363.2" y2="298.7"/>
<line x1="361.4" y1="287.5" x2="363.2" y2="287.5"/>
<line x1="361.4" y1="281.8" x2="363.2" y2="281.8"/>
<line x1="361.4" y1="277.8" x2="363.2" y2="277.8"/>
<line x1="361.4" y1="274.7" x2="363.2" y2="274.7"/>
<line x1="361.4" y1="272.1" x2="363.2" y2="272.1"/>
<line x1="361.4" y1="270.0" x2="363.2" y2="270.0"/>
<line x1="361.4" y1="268.1" x2="363.2" y2="268.1"/>
<line x1="361.4" y1="266.5" x2="363.2" y2="266.5"/>
<line x1="361.4" y1="255.3" x2="363.2" y2="255.3"/>
<line x1="361.4" y1="249.6" x2="363.2" y2="249.6"/>
<line x1="361.4" y1="245.6" x2="363.2" y2="245.6"/>
<line x1="361.4" y1="242.5" x2="363.2" y2="242.5"/>
<line x1="361.4" y1="239.9" x2="363.2" y2="239.9"/>
<line x1="361.4" y1="237.8" x2="363.2" y2="237.8"/>
<line x1="361.4" y1="235.9" x2="363.2" y2="235.9"/>
<line x1="361.4" y1="234.3" x2="363.2" y2="234.3"/>
</g>
<text transform="translate(361.3,384.3) scale(0.88,1)" font-size="14" letter-spacing="-0.6" text-anchor="middle" fill="#555555">0</text>
<text transform="translate(392.7,384.3) scale(0.88,1)" font-size="14" letter-spacing="-0.6" text-anchor="middle" fill="#555555">20</text>
<text transform="translate(424.2,384.3) scale(0.88,1)" font-size="14" letter-spacing="-0.6" text-anchor="middle" fill="#555555">40</text>
<text transform="translate(455.6,384.3) scale(0.88,1)" font-size="14" letter-spacing="-0.6" text-anchor="middle" fill="#555555">60</text>
<text transform="translate(487.1,384.3) scale(0.88,1)" font-size="14" letter-spacing="-0.6" text-anchor="middle" fill="#555555">80</text>
<text transform="translate(518.5,384.3) scale(0.88,1)" font-size="14" letter-spacing="-0.6" text-anchor="middle" fill="#555555">100</text>
<text transform="translate(549.9,384.3) scale(0.88,1)" font-size="14" letter-spacing="-0.6" text-anchor="middle" fill="#555555">120</text>
<text transform="translate(581.4,384.3) scale(0.88,1)" font-size="14" letter-spacing="-0.6" text-anchor="middle" fill="#555555">140</text>
<text transform="translate(358.5,237.1) scale(0.88,1)" font-size="14" letter-spacing="-0.6" text-anchor="end" fill="#555555">1</text>
<text transform="translate(357.6,269.3) scale(0.8,1)" font-size="14" letter-spacing="-0.6" text-anchor="end" fill="#555555">0.100</text>
<text transform="translate(357.6,301.5) scale(0.8,1)" font-size="14" letter-spacing="-0.6" text-anchor="end" fill="#555555">0.010</text>
<text transform="translate(357.6,333.7) scale(0.8,1)" font-size="14" letter-spacing="-0.6" text-anchor="end" fill="#555555">0.001</text>
<text transform="translate(359.2,365.9) scale(0.88,1)" font-size="14" letter-spacing="-0.6" text-anchor="end" fill="#555555">10<tspan dy="-4.5" font-size="9">−4</tspan></text>
<path d="M361.6,278.0C361.8,280.0 362.0,286.5 362.5,290.0C363.0,293.5 363.7,296.1 364.5,299.0C365.3,301.9 366.4,305.1 367.4,307.4C368.4,309.7 369.2,311.1 370.5,313.0C371.8,314.9 372.5,316.3 374.9,318.7C377.3,321.1 380.8,324.5 384.9,327.4C389.0,330.3 393.1,333.2 399.8,336.1C406.5,339.0 416.5,342.2 424.8,344.8C433.1,347.4 441.4,349.4 449.7,351.5C458.0,353.6 466.0,355.4 474.6,357.3C483.2,359.2 492.6,361.2 501.2,362.6C509.8,364.0 517.9,364.9 526.2,365.9C534.6,366.9 542.9,367.6 551.3,368.4C559.7,369.2 569.1,370.1 576.4,370.7C583.7,371.3 592.1,371.9 595.2,372.2" fill="none" stroke="#4570b0" stroke-width="1.1"/>
<g fill="none" stroke="#4570b0" stroke-width="1.0">
<circle cx="361.5" cy="231.7" r="2.3"/>
<circle cx="362.0" cy="273.6" r="2.3"/>
<circle cx="363.8" cy="284.3" r="2.3"/>
<circle cx="364.4" cy="292.3" r="2.3"/>
<circle cx="365.6" cy="296.8" r="2.3"/>
<circle cx="366.8" cy="301.1" r="2.3"/>
<circle cx="368.1" cy="304.8" r="2.3"/>
<circle cx="369.6" cy="309.3" r="2.3"/>
<circle cx="371.4" cy="312.8" r="2.3"/>
<circle cx="372.4" cy="316.2" r="2.3"/>
<circle cx="374.2" cy="321.1" r="2.3"/>
<circle cx="374.9" cy="315.4" r="2.3"/>
<circle cx="376.7" cy="325.4" r="2.3"/>
<circle cx="378.2" cy="327.4" r="2.3"/>
<circle cx="379.9" cy="321.1" r="2.3"/>
<circle cx="381.6" cy="334.9" r="2.3"/>
<circle cx="383.1" cy="329.9" r="2.3"/>
<circle cx="384.9" cy="327.4" r="2.3"/>
<circle cx="386.6" cy="334.9" r="2.3"/>
<circle cx="387.9" cy="342.8" r="2.3"/>
<circle cx="389.9" cy="334.9" r="2.3"/>
<circle cx="391.1" cy="342.8" r="2.3"/>
<circle cx="392.9" cy="333.6" r="2.3"/>
<circle cx="393.1" cy="338.6" r="2.3"/>
<circle cx="394.4" cy="352.3" r="2.3"/>
<circle cx="395.6" cy="352.3" r="2.3"/>
<circle cx="396.6" cy="347.3" r="2.3"/>
<circle cx="398.1" cy="352.3" r="2.3"/>
<circle cx="399.1" cy="342.8" r="2.3"/>
<circle cx="399.8" cy="347.3" r="2.3"/>
<circle cx="402.3" cy="352.3" r="2.3"/>
<circle cx="403.6" cy="347.3" r="2.3"/>
<circle cx="404.8" cy="362.3" r="2.3"/>
<circle cx="406.1" cy="352.3" r="2.3"/>
<circle cx="408.6" cy="347.3" r="2.3"/>
<circle cx="409.8" cy="362.3" r="2.3"/>
<circle cx="411.0" cy="362.3" r="2.3"/>
<circle cx="413.5" cy="347.3" r="2.3"/>
<circle cx="413.5" cy="362.3" r="2.3"/>
<circle cx="415.3" cy="362.3" r="2.3"/>
<circle cx="417.3" cy="362.3" r="2.3"/>
<circle cx="420.5" cy="362.3" r="2.3"/>
<circle cx="421.8" cy="342.8" r="2.3"/>
<circle cx="424.3" cy="347.3" r="2.3"/>
<circle cx="425.5" cy="362.3" r="2.3"/>
<circle cx="428.0" cy="362.3" r="2.3"/>
<circle cx="429.7" cy="352.3" r="2.3"/>
<circle cx="431.0" cy="362.3" r="2.3"/>
<circle cx="432.2" cy="352.3" r="2.3"/>
<circle cx="434.0" cy="347.3" r="2.3"/>
<circle cx="435.5" cy="362.3" r="2.3"/>
<circle cx="436.0" cy="352.3" r="2.3"/>
<circle cx="441.0" cy="352.3" r="2.3"/>
<circle cx="445.9" cy="352.3" r="2.3"/>
<circle cx="447.2" cy="362.3" r="2.3"/>
<circle cx="454.2" cy="362.3" r="2.3"/>
<circle cx="457.2" cy="362.3" r="2.3"/>
<circle cx="459.6" cy="362.3" r="2.3"/>
<circle cx="462.6" cy="362.3" r="2.3"/>
<circle cx="476.3" cy="352.2" r="2.3"/>
<circle cx="479.3" cy="362.3" r="2.3"/>
<circle cx="481.8" cy="362.3" r="2.3"/>
<circle cx="488.7" cy="362.3" r="2.3"/>
<circle cx="516.7" cy="362.3" r="2.3"/>
<circle cx="519.2" cy="362.3" r="2.3"/>
<circle cx="521.2" cy="362.3" r="2.3"/>
<circle cx="543.0" cy="362.3" r="2.3"/>
<circle cx="548.8" cy="362.3" r="2.3"/>
<circle cx="590.2" cy="362.3" r="2.3"/>
</g>
<text x="404.8" y="328.6" font-size="16.8" text-anchor="start" fill="#000" >log-convex</text>
<line x1="489" y1="269.2" x2="529.3" y2="269.2" stroke="#6079bb" stroke-width="1"/>
<circle cx="509.3" cy="290" r="3.3" fill="none" stroke="#4570b0" stroke-width="1"/>
<text x="546.5" y="274.5" font-size="20.1" text-anchor="start" fill="#000" >Eq. (6)</text>
<text x="546.5" y="297.5" font-size="20.1" text-anchor="start" fill="#000" >ED</text>
<text x="523.7" y="344.3" font-size="20.1" fill="#000">N<tspan dy="2.6" font-size="15.8">c</tspan><tspan dy="-2.6">=25M</tspan></text>
<g transform="translate(327.4,315) rotate(-90)" fill="#000">
<text transform="translate(1.7,0) skewX(-17)" font-size="19.5" font-style="italic">f</text>
<text x="9.4" y="0" font-size="19">(</text>
<text transform="translate(15.2,-0.4) scale(0.86,1)" font-size="24.5" font-style="italic" stroke="#fff" stroke-width="0.3">ℓ</text>
<text x="20.9" y="0" font-size="19">)</text>
</g>
<text transform="translate(469.38,400.50) scale(0.84,1)" font-size="26" font-style="italic" fill="#000" stroke="#fff" stroke-width="0.45">ℓ</text>
</svg>
</body></html>
